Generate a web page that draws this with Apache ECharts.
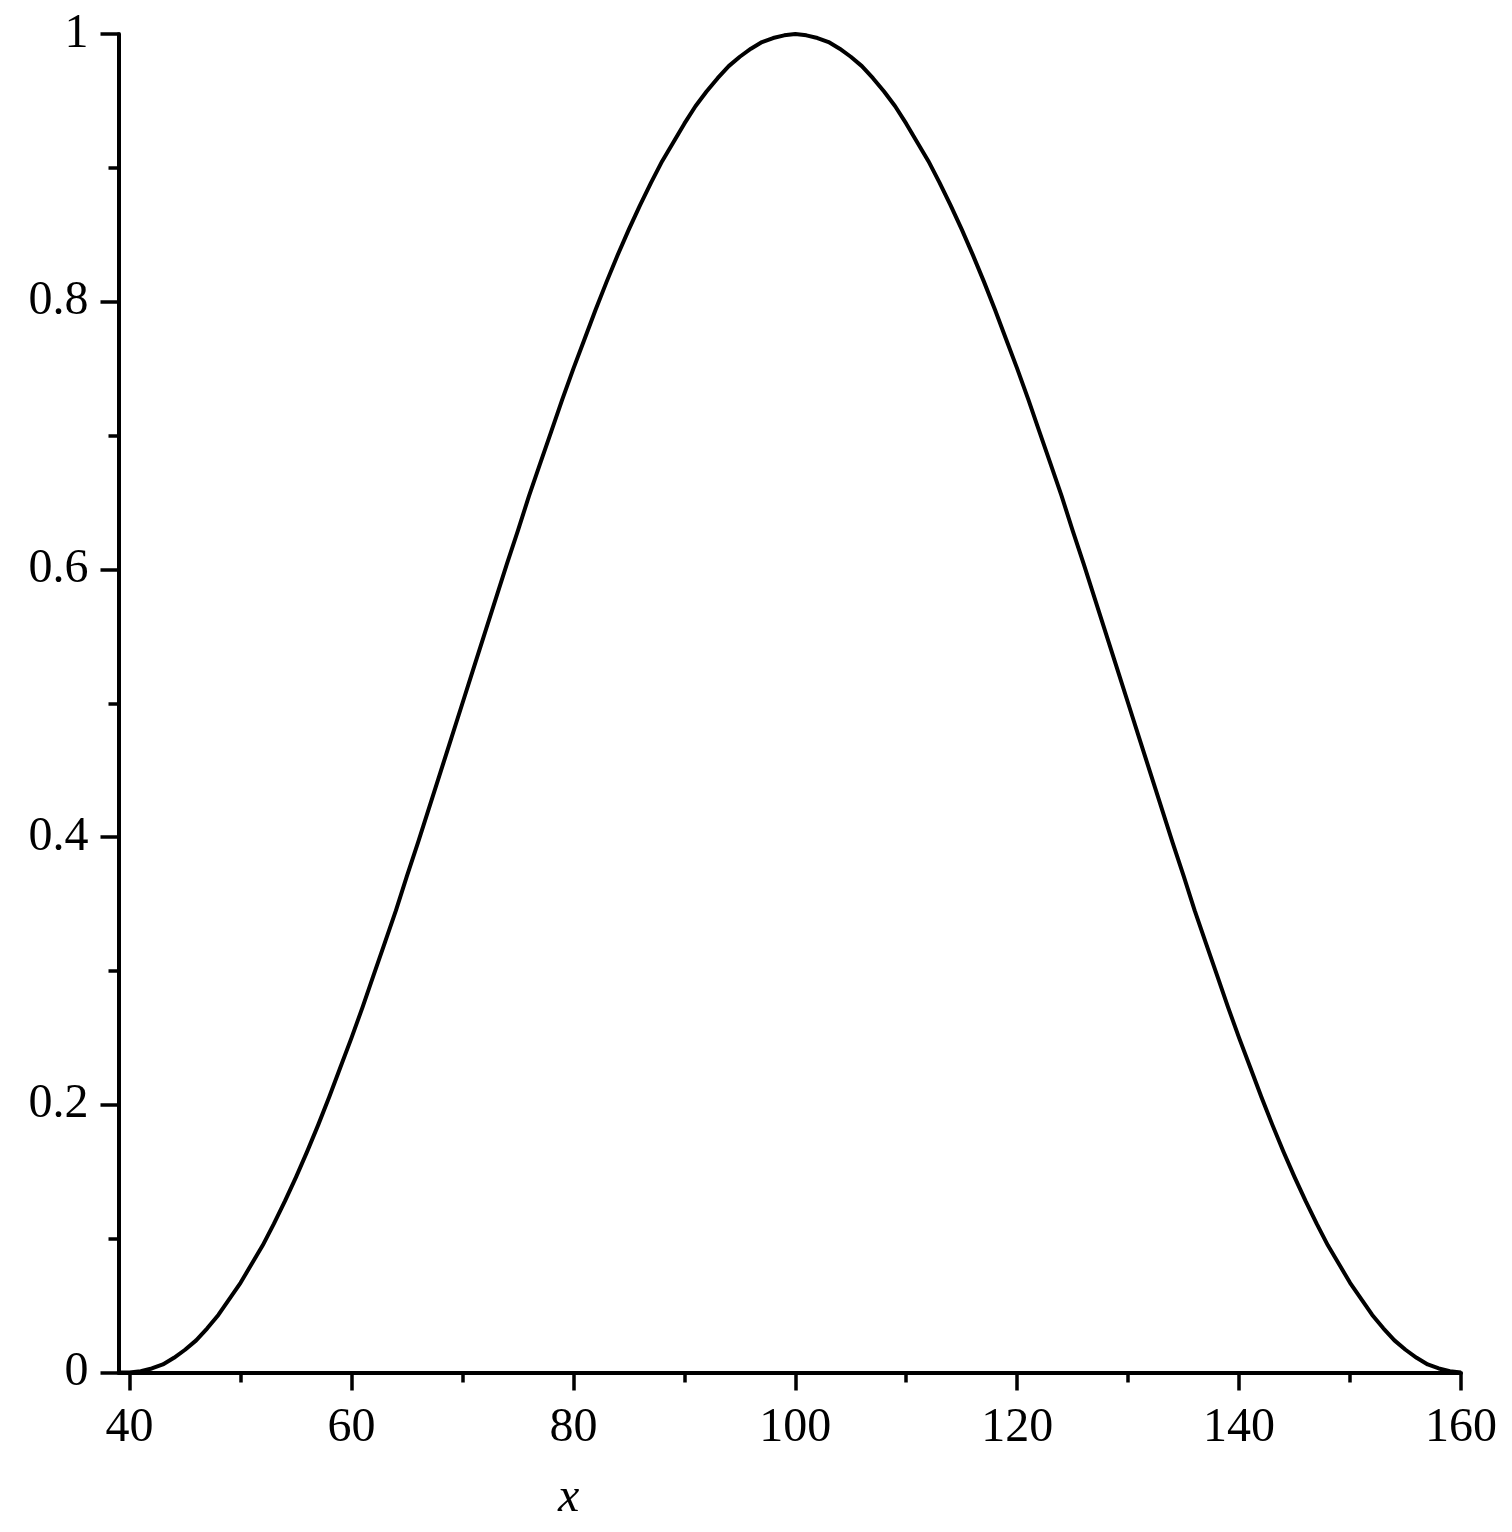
<!DOCTYPE html>
<html>
<head>
<meta charset="utf-8">
<script src="https://cdn.jsdelivr.net/npm/echarts@6/dist/echarts.min.js"></script>
<style>
	html, body { margin: 0; padding: 0; background: #fff; }
	#chart { width: 1512px; height: 1532px; }
</style>
</head>
<body>
<div id="chart"></div>
<script>
// values, one per unit of x
var xs = [39,
	40, 41, 42, 43, 44, 45, 46, 47, 48, 49, 50, 51, 52, 53, 54, 55, 56, 57, 58, 59,
	60, 61, 62, 63, 64, 65, 66, 67, 68, 69, 70, 71, 72, 73, 74, 75, 76, 77, 78, 79,
	80, 81, 82, 83, 84, 85, 86, 87, 88, 89, 90, 91, 92, 93, 94, 95, 96, 97, 98, 99,
	100, 101, 102, 103, 104, 105, 106, 107, 108, 109, 110, 111, 112, 113, 114, 115, 116, 117, 118, 119,
	120, 121, 122, 123, 124, 125, 126, 127, 128, 129, 130, 131, 132, 133, 134, 135, 136, 137, 138, 139,
	140, 141, 142, 143, 144, 145, 146, 147, 148, 149, 150, 151, 152, 153, 154, 155, 156, 157, 158, 159, 160];
var ys = [0,
	0, 0.001, 0.003, 0.006, 0.011, 0.017, 0.024, 0.033, 0.043, 0.055, 0.067, 0.081, 0.095, 0.111, 0.128, 0.146, 0.165, 0.185, 0.206, 0.228,
	0.25, 0.273, 0.297, 0.321, 0.345, 0.371, 0.396, 0.422, 0.448, 0.474, 0.5, 0.526, 0.552, 0.578, 0.604, 0.629, 0.655, 0.679, 0.703, 0.727,
	0.75, 0.772, 0.794, 0.815, 0.835, 0.854, 0.872, 0.889, 0.905, 0.919, 0.933, 0.946, 0.957, 0.967, 0.976, 0.983, 0.989, 0.994, 0.997, 0.999,
	1, 0.999, 0.997, 0.994, 0.989, 0.983, 0.976, 0.967, 0.957, 0.946, 0.933, 0.919, 0.905, 0.889, 0.872, 0.854, 0.835, 0.815, 0.794, 0.772,
	0.75, 0.727, 0.703, 0.679, 0.655, 0.629, 0.604, 0.578, 0.552, 0.526, 0.5, 0.474, 0.448, 0.422, 0.396, 0.371, 0.345, 0.321, 0.297, 0.273,
	0.25, 0.228, 0.206, 0.185, 0.165, 0.146, 0.128, 0.111, 0.095, 0.081, 0.067, 0.055, 0.043, 0.033, 0.024, 0.017, 0.011, 0.006, 0.003, 0.001, 0];

var xLabels = [40, 60, 80, 100, 120, 140, 160];
var xMinorTicks = [50, 70, 90, 110, 130, 150];

init();

function init() {
	var chart = echarts.init(document.getElementById('chart'), null, { renderer: 'canvas' });

	var font = 'Liberation Serif, Times New Roman, serif';
	var lineData = [];
	for (var i = 0; i < xs.length; i++) {
		lineData.push([xs[i], ys[i]]);
	}

	var option = {
		backgroundColor: '#ffffff',
		animation: false,
		grid: {
			left: 118.5,
			right: 51,
			top: 34,
			bottom: 159.5
		},
		// Axis setup
		xAxis: [{
			type: 'value',
			position: 'bottom',
			min: 39,
			max: 160,
			axisLine: { show: true, onZero: false, lineStyle: { color: '#000', width: 4 } },
			axisTick: { show: true, customValues: xLabels, length: 18, lineStyle: { color: '#000', width: 3.5 } },
			axisLabel: {
				customValues: xLabels,
				margin: 32,
				color: '#000',
				fontFamily: font,
				fontSize: 48
			},
			splitLine: { show: false }
		}, {
			type: 'value',
			position: 'bottom',
			min: 39,
			max: 160,
			axisLine: { show: false },
			axisTick: { show: true, customValues: xMinorTicks, length: 10, lineStyle: { color: '#000', width: 3.5 } },
			axisLabel: { show: false },
			splitLine: { show: false }
		}],
		yAxis: {
			type: 'value',
			min: 0,
			max: 1,
			interval: 0.2,
			axisLine: { show: true, onZero: false, lineStyle: { color: '#000', width: 4 } },
			axisTick: { show: true, length: 18, lineStyle: { color: '#000', width: 3.5 } },
			minorTick: { show: true, splitNumber: 2, length: 10, lineStyle: { color: '#000', width: 3.5 } },
			axisLabel: {
				margin: 30,
				color: '#000',
				fontFamily: font,
				fontSize: 48
			},
			splitLine: { show: false }
		},
		graphic: [{
			type: 'text',
			left: 558,
			top: 1474,
			style: {
				text: 'x',
				fontFamily: font,
				fontStyle: 'italic',
				fontSize: 48,
				fill: '#000'
			}
		}],
		series: [{
			type: 'line',
			xAxisIndex: 0,
			data: lineData,
			showSymbol: false,
			smooth: false,
			lineStyle: { color: '#000', width: 4, join: 'round' }
		}]
	};

	chart.setOption(option);
}
</script>
</body>
</html>
